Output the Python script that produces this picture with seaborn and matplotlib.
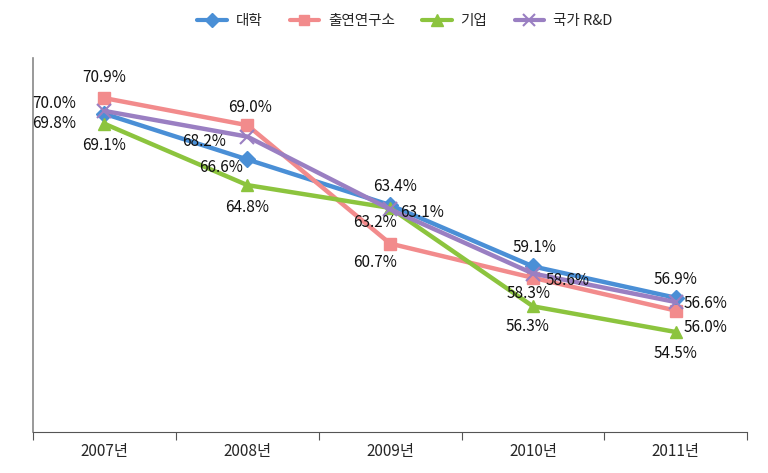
import numpy as np
import pandas as pd
import matplotlib
matplotlib.use("Agg")
import matplotlib.pyplot as plt
import seaborn as sns

# data
years = ["2007년", "2008년", "2009년", "2010년", "2011년"]
series_names = ["대학", "출연연구소", "기업", "국가 R&D"]
university = [69.8, 66.6, 63.4, 59.1, 56.9]
institutes = [70.9, 69.0, 60.7, 58.3, 56.0]
companies = [69.1, 64.8, 63.2, 56.3, 54.5]
national = [70.0, 68.2, 63.1, 58.6, 56.6]

colors = {"대학": "#4a8fd6", "출연연구소": "#f28b8c", "기업": "#8cc43e", "국가 R&D": "#9a7fc2"}
markers = {"대학": "D", "출연연구소": "s", "기업": "^", "국가 R&D": "x"}
marker_sizes = {"대학": 8, "출연연구소": 8, "기업": 9, "국가 R&D": 10}

# label offsets in pixels (dx, dy) per series, per year
label_offsets = {
    "대학": [(-50, -10), (-26, -8), (5, 19), (2, 19), (0, 18)],
    "출연연구소": [(0, 21), (3, 18), (-15, -19), (-4, -16), (30, -17)],
    "기업": [(0, -22), (0, -22), (-15, -15), (-5, -20), (0, -21)],
    "국가 R&D": [(-50, 7), (-43, -5), (32, -3), (35, -7), (30, -1)],
}

df = pd.DataFrame({
    "year": np.tile(np.arange(len(years)), len(series_names)),
    "value": university + institutes + companies + national,
    "series": np.repeat(series_names, len(years)),
})

sns.set_style("white")
plt.rcParams["font.family"] = ["Noto Sans CJK KR", "DejaVu Sans"]

fig = plt.figure(figsize=(7.68, 4.73), dpi=100)
ax = fig.add_axes([0.043, 0.087, 0.93, 0.79])

for name in series_names:
    sub = df[df["series"] == name]
    sns.lineplot(
        data=sub, x="year", y="value", color=colors[name],
        marker=markers[name], markersize=marker_sizes[name],
        markeredgecolor=colors[name],
        markeredgewidth=1.5 if name == "국가 R&D" else 1,
        linewidth=3.2, ax=ax, legend=False,
    )

for name, vals in zip(series_names, [university, institutes, companies, national]):
    for i, v in enumerate(vals):
        dx, dy = label_offsets[name][i]
        ax.annotate(f"{v:.1f}%", (i, v), xytext=(dx, dy), textcoords="offset pixels",
                    ha="center", va="center", fontsize=11, color="#111111",
                    family=["Noto Sans CJK KR", "DejaVu Sans"])

ax.set_xlim(-0.5, len(years) - 0.5)
ax.set_ylim(47.5, 73.7)
ax.set_xticks(np.arange(len(years) + 1) - 0.5)
ax.set_xticklabels([])
ax.set_xticks(np.arange(len(years)), minor=True)
ax.set_xticklabels(years, minor=True, fontsize=11)
ax.tick_params(axis="x", which="major", length=6, width=0.8, color="#555555", bottom=True)
ax.tick_params(axis="x", which="minor", length=0, pad=8)
ax.set_yticks([])
ax.set_xlabel("")
ax.set_ylabel("")
for side in ["top", "right"]:
    ax.spines[side].set_visible(False)
ax.spines["left"].set_color("#888888")
ax.spines["left"].set_linewidth(1.2)
ax.spines["bottom"].set_color("#555555")
ax.spines["bottom"].set_linewidth(0.8)

handles = [plt.Line2D([], [], color=colors[n], marker=markers[n], lw=3,
                      markersize=marker_sizes[n] - 1, markeredgecolor=colors[n],
                      markeredgewidth=1.5 if n == "국가 R&D" else 1)
           for n in series_names]
fig.legend(handles, series_names, loc="center", bbox_to_anchor=(0.527, 0.955),
           ncol=4, frameon=False, fontsize=10.5, handlelength=2.0, columnspacing=1.9,
           handletextpad=0.6)

fig.savefig("out.png", dpi=100)
